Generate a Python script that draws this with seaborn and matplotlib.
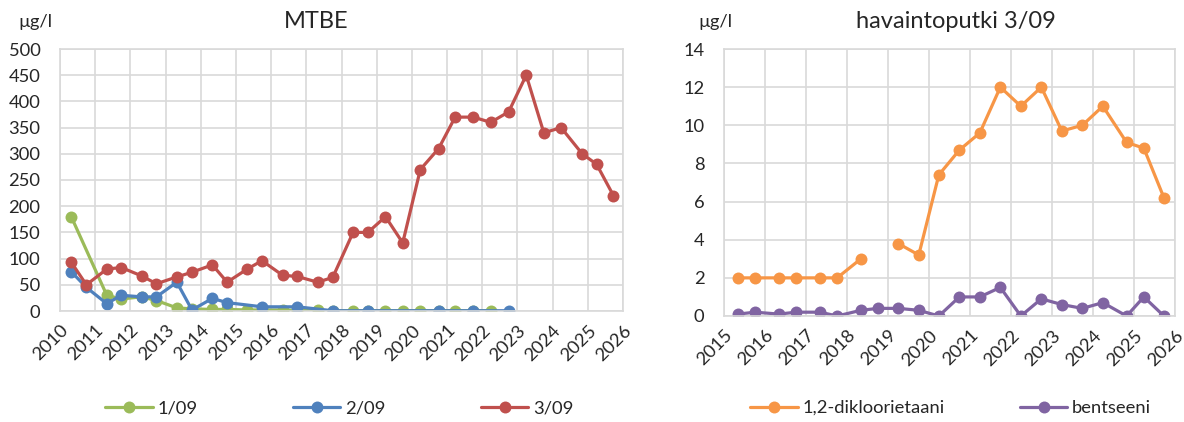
import numpy as np
import pandas as pd
import matplotlib
matplotlib.use("Agg")
import matplotlib.pyplot as plt
from matplotlib.lines import Line2D
import seaborn as sns

# ---- MTBE concentrations (µg/l), sampling times as decimal years ----
t_109 = [2010.32, 2011.33, 2011.74, 2012.32, 2012.74, 2013.32, 2013.75, 2014.33,
         2014.75, 2015.32, 2015.74, 2016.33, 2016.74, 2017.32, 2017.75, 2018.33,
         2018.75, 2019.25, 2019.74, 2020.24, 2020.76, 2021.23, 2021.75, 2022.24]
mtbe_109 = [180, 30, 23, 27, 20, 6, 4, 3,
            3, 2, 2, 2, 1, 1, 0.5, 0.5,
            0.5, 0.5, 0.5, 0.5, 0.5, 0.5, 0.5, 0.5]

t_209 = [2010.32, 2010.75, 2011.33, 2011.74, 2012.32, 2012.74, 2013.32, 2013.75,
         2014.33, 2014.75, 2015.74, 2016.74, 2017.75, 2018.75, 2020.76, 2021.75,
         2022.75]
mtbe_209 = [75, 45, 14, 30, 27, 27, 55, 2,
            24, 16, 8, 8, 0.5, 0.5, 0.5, 0.5,
            0.5]

t_309 = [2010.32, 2010.75, 2011.33, 2011.74, 2012.32, 2012.74, 2013.32, 2013.75,
         2014.33, 2014.75, 2015.32, 2015.74, 2016.33, 2016.74, 2017.32, 2017.75,
         2018.33, 2018.75, 2019.25, 2019.74, 2020.24, 2020.76, 2021.23, 2021.75,
         2022.24, 2022.75, 2023.25, 2023.75, 2024.24, 2024.84, 2025.25, 2025.73]
mtbe_309 = [93, 50, 80, 83, 67, 52, 65, 74,
            88, 55, 80, 96, 68, 66, 55, 64,
            150, 150, 180, 130, 270, 310, 370, 370,
            360, 380, 450, 340, 350, 300, 280, 220]

# ---- observation well 3/09 (µg/l) ----
t_well = [2015.34, 2015.76, 2016.34, 2016.76, 2017.34, 2017.76, 2018.34, 2018.76,
          2019.25, 2019.75, 2020.24, 2020.74, 2021.24, 2021.74, 2022.24, 2022.74,
          2023.24, 2023.74, 2024.24, 2024.82, 2025.24, 2025.73]
dce = [2, 2, 2, 2, 2, 2, 3, np.nan,
       3.8, 3.2, 7.4, 8.7, 9.6, 12, 11, 12,
       9.7, 10, 11, 9.1, 8.8, 6.2]
benzene = [0.1, 0.2, 0.1, 0.2, 0.2, 0.0, 0.3, 0.4,
           0.4, 0.3, 0.0, 1.0, 1.0, 1.5, 0.0, 0.9,
           0.6, 0.4, 0.7, 0.0, 1.0, 0.0]

years_left = list(range(2010, 2027))
years_right = list(range(2015, 2027))

GREEN, BLUE, RED = "#9BBB59", "#4F81BD", "#C0504D"
ORANGE, PURPLE = "#F79646", "#8064A2"
GRID = "#D9D9D9"

sns.set_style("white")
plt.rcParams["font.family"] = ["Lato", "DejaVu Sans"]
FS = 13.2

fig = plt.figure(figsize=(11.84, 4.22), dpi=100)
W, H = 1184, 422


def px_axes(x0, x1, y0, y1):
    return fig.add_axes([x0 / W, (H - y1) / H, (x1 - x0) / W, (y1 - y0) / H])


ax1 = px_axes(60, 623, 49, 311)
ax2 = px_axes(724, 1175, 49, 316)

LW = 2.3
MS = 8.6


def draw(ax, x, y, color):
    df = pd.DataFrame({"t": x, "v": y})
    sns.lineplot(data=df, x="t", y="v", ax=ax, color=color, linewidth=LW,
                 marker="o", markersize=MS, markeredgewidth=0, legend=False)


draw(ax1, t_109, mtbe_109, GREEN)
draw(ax1, t_209, mtbe_209, BLUE)
draw(ax1, t_309, mtbe_309, RED)

# 1,2-dichloroethane has a missing sample, drawn as two separate runs
dce_arr = np.array(dce)
t_arr = np.array(t_well)
gap = np.where(np.isnan(dce_arr))[0][0]
draw(ax2, t_arr[:gap], dce_arr[:gap], ORANGE)
draw(ax2, t_arr[gap + 1:], dce_arr[gap + 1:], ORANGE)
draw(ax2, t_well, benzene, PURPLE)


def style(ax, years, ymax, ystep):
    ax.set_xlim(years[0], years[-1])
    ax.set_ylim(0, ymax)
    ax.set_xticks(years)
    ax.set_xticklabels([str(y) for y in years], rotation=45, ha="right",
                       rotation_mode="anchor", fontsize=FS)
    ax.set_yticks(np.arange(0, ymax + ystep / 2, ystep))
    ax.set_yticklabels([f"{v:g}" for v in np.arange(0, ymax + ystep / 2, ystep)],
                       fontsize=FS)
    ax.grid(True, color=GRID, linewidth=1.2)
    ax.set_axisbelow(True)
    for s in ax.spines.values():
        s.set_color(GRID)
        s.set_linewidth(1.2)
    ax.tick_params(axis="x", length=4, color=GRID, width=1.2, pad=4)
    ax.tick_params(axis="y", length=0, pad=14)
    ax.set_xlabel("")
    ax.set_ylabel("")


style(ax1, years_left, 500, 50)
style(ax2, years_right, 14, 2)

# titles and unit labels
fig.text(316 / W, 1 - 22 / H, "MTBE", ha="center", va="center", fontsize=17)
fig.text(35 / W, 1 - 22 / H, "µg/l", ha="center", va="center", fontsize=FS)
fig.text(956 / W, 1 - 22 / H, "havaintoputki 3/09", ha="center", va="center",
         fontsize=17)
fig.text(715 / W, 1 - 22 / H, "µg/l", ha="center", va="center", fontsize=FS)


def handle(color, label):
    return Line2D([], [], color=color, linewidth=LW, marker="o", markersize=MS,
                  markeredgewidth=0, label=label)


leg_kw = dict(frameon=False, fontsize=FS, handlelength=2.6, handletextpad=0.25,
              borderpad=0, borderaxespad=0, loc="center left")
fig.legend(handles=[handle(GREEN, "1/09"), handle(BLUE, "2/09"), handle(RED, "3/09")],
           ncol=3, columnspacing=5.2, bbox_to_anchor=(105 / W, 1 - 408 / H), **leg_kw)
fig.legend(handles=[handle(ORANGE, "1,2-dikloorietaani"), handle(PURPLE, "bentseeni")],
           ncol=2, columnspacing=4.1, bbox_to_anchor=(750 / W, 1 - 408 / H), **leg_kw)

fig.savefig("out.png", dpi=100)
